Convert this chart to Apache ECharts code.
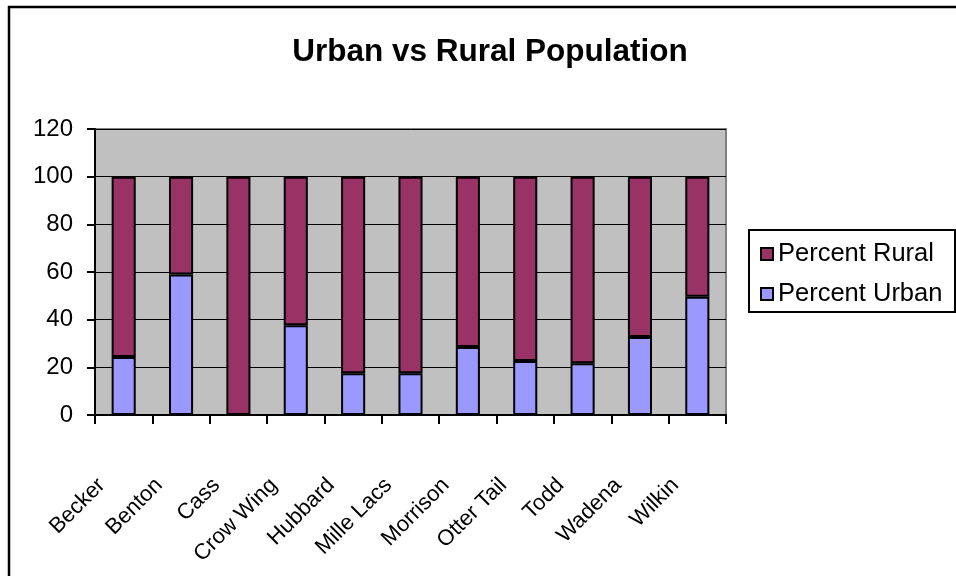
<!DOCTYPE html>
<html>
<head>
<meta charset="utf-8">
<title>Urban vs Rural Population</title>
<script src="https://cdn.jsdelivr.net/npm/echarts@6/dist/echarts.min.js"></script>
<style>
  html, body { margin: 0; padding: 0; background: #ffffff; }
  #chart { width: 956px; height: 576px; }
</style>
</head>
<body>
<div id="chart"></div>
<script>
// County names along the category axis
const counties = ['Becker', 'Benton', 'Cass', 'Crow Wing', 'Hubbard', 'Mille Lacs',
                  'Morrison', 'Otter Tail', 'Todd', 'Wadena', 'Wilkin'];

// Share of population living in urban areas (%)
const percentUrban = [24.3, 58.9, 0, 37.7, 17.5, 17.5, 28.5, 22.7, 21.7, 32.7, 49.6];

// Share of population living in rural areas (%)
const percentRural = [75.7, 41.1, 100, 62.3, 82.5, 82.5, 71.5, 77.3, 78.3, 67.3, 50.4];

// Value axis ticks
const yTicks = [0, 20, 40, 60, 80, 100, 120];

const fontFamily = 'Arial, "Liberation Sans", Helvetica, sans-serif';

const chart = echarts.init(document.getElementById('chart'), null, { renderer: 'canvas' });

chart.setOption({
  animation: false,
  backgroundColor: '#ffffff',
  textStyle: { fontFamily: fontFamily },
  title: {
    text: 'Urban vs Rural Population',
    left: 485,
    top: 31,
    textAlign: 'center',
    textStyle: { fontSize: 31.5, fontWeight: 'bold', color: '#000000', fontFamily: fontFamily }
  },
  graphic: [
    {
      // outer chart frame
      type: 'rect',
      shape: { x: 9, y: 7, width: 1000, height: 1000 },
      style: { fill: 'none', stroke: '#000000', lineWidth: 2.5 },
      silent: true,
      z: 100
    },
    {
      // legend frame
      type: 'rect',
      shape: { x: 749, y: 230, width: 206, height: 82 },
      style: { fill: '#ffffff', stroke: '#000000', lineWidth: 2 },
      silent: true,
      z: 0
    }
  ],
  legend: {
    orient: 'vertical',
    left: 760,
    top: 241,
    padding: 0,
    icon: 'rect',
    itemWidth: 12,
    itemHeight: 12,
    itemGap: 14,
    data: ['Percent Rural', 'Percent Urban'],
    textStyle: { fontSize: 25.5, color: '#000000', lineHeight: 26, fontFamily: fontFamily },
    itemStyle: { borderColor: '#000000', borderWidth: 2 },
    z: 10
  },
  grid: {
    left: 95,
    right: 230,
    top: 129,
    bottom: 161,
    show: true,
    backgroundColor: '#c0c0c0',
    borderColor: '#808080',
    borderWidth: 2
  },
  xAxis: {
    type: 'category',
    data: counties,
    axisLine: { show: true, lineStyle: { color: '#000000', width: 2 } },
    axisTick: { show: true, length: 9, interval: 0, lineStyle: { color: '#000000', width: 2 } },
    axisLabel: {
      interval: 0,
      rotate: 45,
      margin: 45,
      padding: [0, 31, 0, 0],
      fontSize: 22,
      color: '#000000',
      fontFamily: fontFamily
    },
    splitLine: { show: false }
  },
  yAxis: {
    type: 'value',
    min: yTicks[0],
    max: yTicks[yTicks.length - 1],
    interval: 20,
    axisLine: { show: true, lineStyle: { color: '#000000', width: 2 } },
    axisTick: { show: true, length: 8, lineStyle: { color: '#000000', width: 2 } },
    axisLabel: { fontSize: 24, color: '#000000', margin: 22, fontFamily: fontFamily },
    splitLine: { show: true, lineStyle: { color: '#000000', width: 1 } }
  },
  series: [
    {
      name: 'Percent Urban',
      type: 'bar',
      stack: 'total',
      barWidth: '42%',
      data: percentUrban,
      itemStyle: { color: '#9999ff', borderColor: '#000000', borderWidth: 2 }
    },
    {
      name: 'Percent Rural',
      type: 'bar',
      stack: 'total',
      barWidth: '42%',
      data: percentRural,
      itemStyle: { color: '#993366', borderColor: '#000000', borderWidth: 2 }
    }
  ]
});
</script>
</body>
</html>
